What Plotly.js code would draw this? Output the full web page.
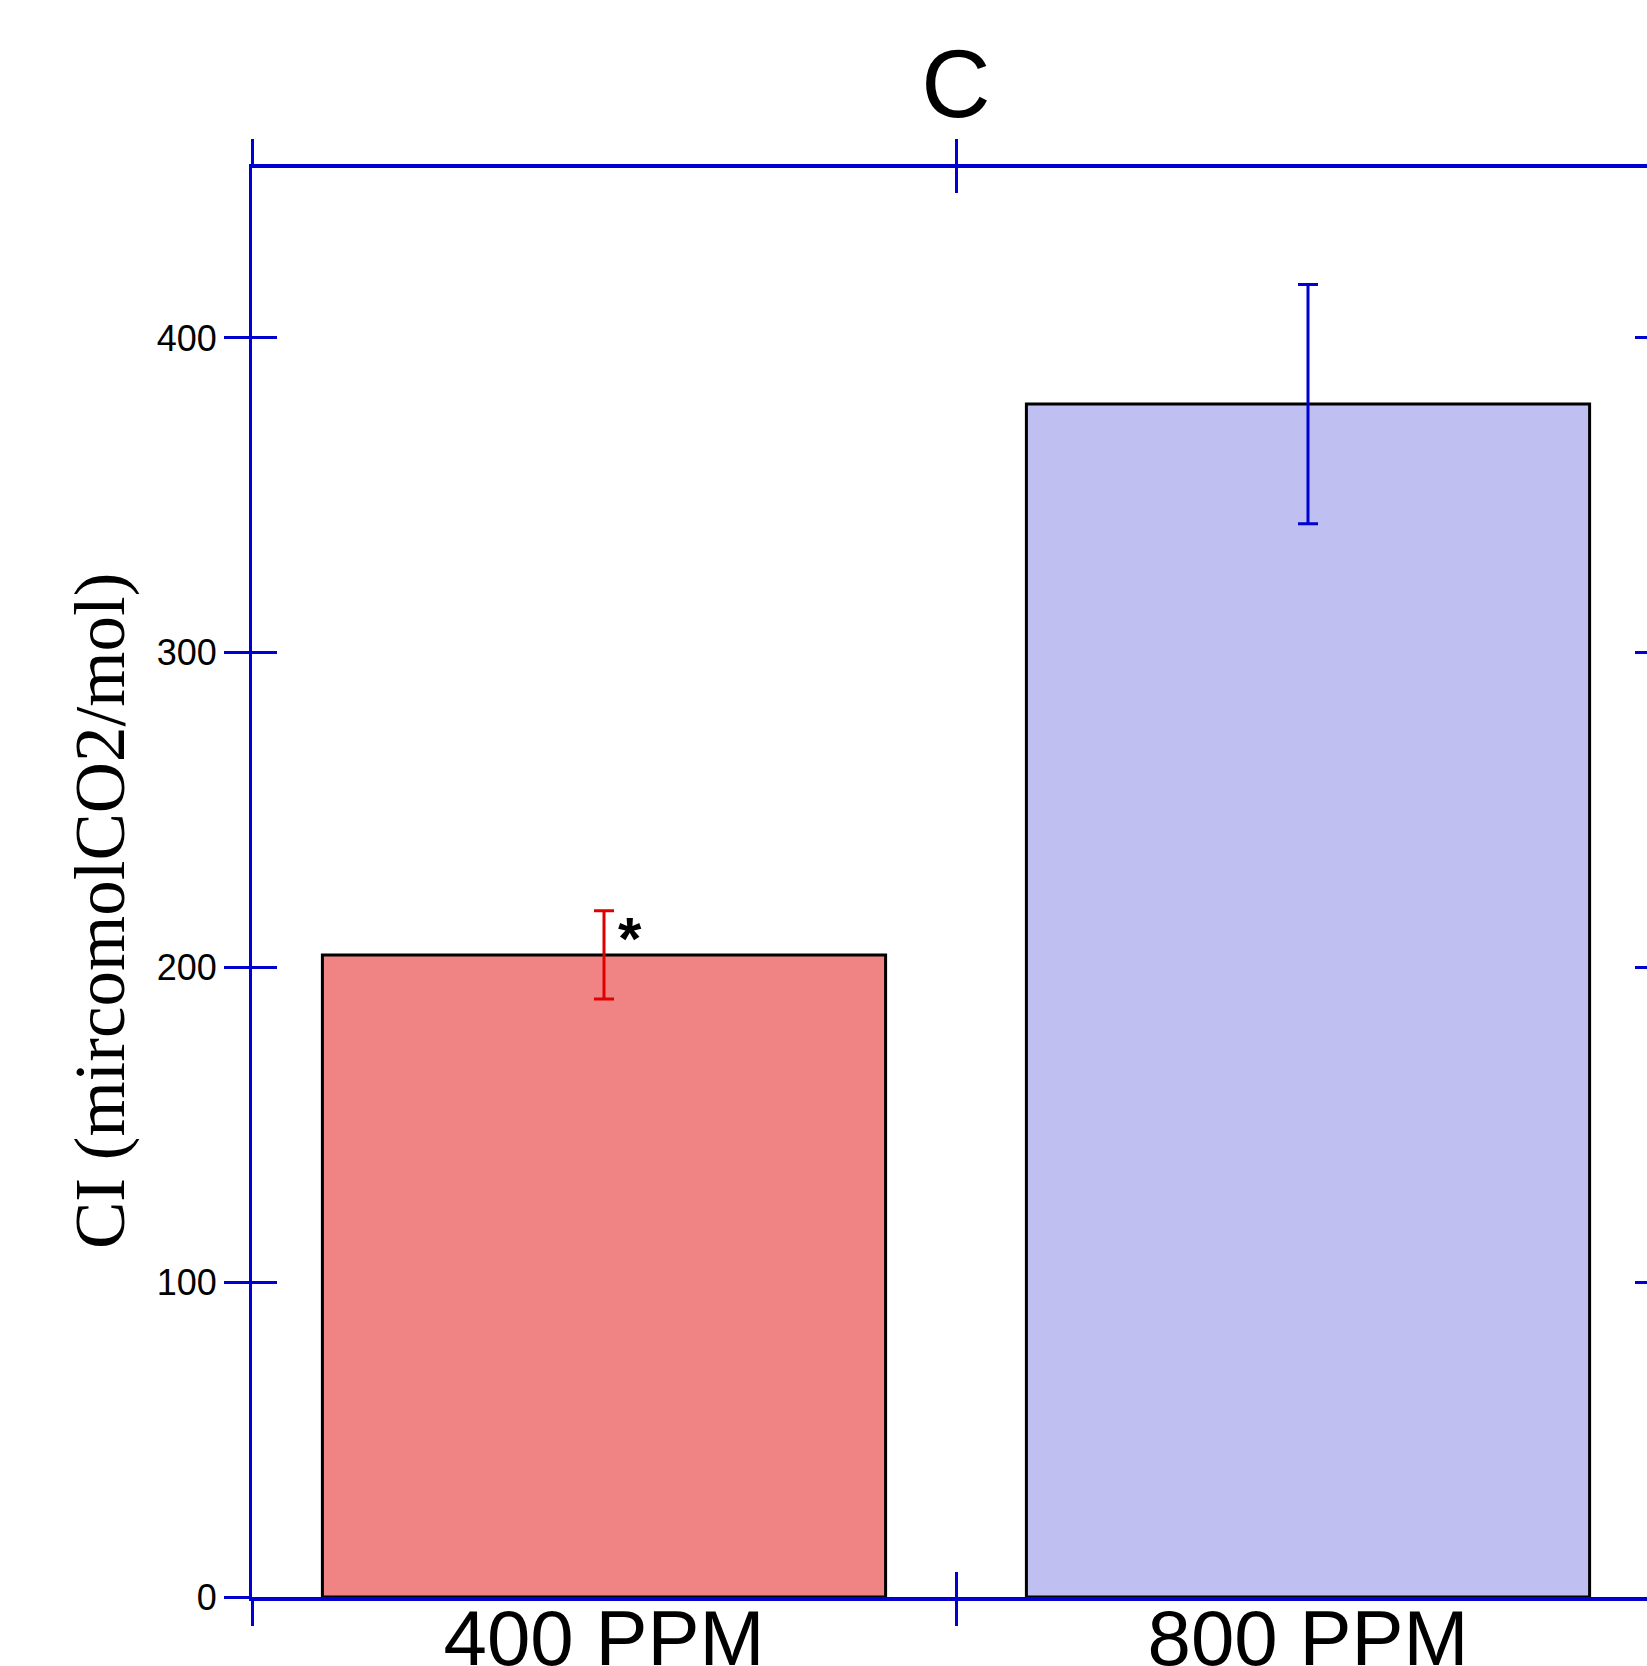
<!DOCTYPE html>
<html>
<head>
<meta charset="utf-8">
<script src="https://cdn.plot.ly/plotly-3.0.1.min.js"></script>
<style>
  html, body { margin: 0; padding: 0; overflow: hidden; background: #fff; }
  #chart { width: 1670px; height: 1666px; }
</style>
</head>
<body>
<div id="chart"></div>
<script>
// ---- data ----
const categories = ["400 PPM", "800 PPM"];
const ciValues = [204, 379];
const ciErrors = [14, 38];
const barColors = ["#F08383", "#BFBFF2"];
const errColors = ["#E00000", "#0000D0"];
const yTickVals = [0, 100, 200, 300, 400];
const titleText = "C";
const yTitleText = "CI (mircomolCO2/mol)";
const sigMark = "*";

const axisBlue = "#0000D0";

const traces = categories.map((c, i) => ({
  type: "bar",
  x: [c],
  y: [ciValues[i]],
  width: 0.8,
  marker: { color: barColors[i], line: { color: "#000", width: 3 } },
  error_y: { type: "data", array: [ciErrors[i]], visible: true, color: errColors[i], thickness: 3, width: 10 },
  hoverinfo: "x+y",
  showlegend: false
}));

// helper trace so the overlaid (second) axes are drawn
traces.push({
  type: "scatter",
  mode: "markers",
  x: categories,
  y: ciValues,
  xaxis: "x2",
  yaxis: "y2",
  marker: { opacity: 0 },
  hoverinfo: "skip",
  showlegend: false
});

const commonX = {
  type: "category",
  categoryarray: categories,
  range: [-0.5, 1.5],
  tickson: "boundaries",
  ticklen: 25,
  tickwidth: 3,
  tickcolor: axisBlue,
  showline: true,
  linecolor: axisBlue,
  linewidth: 4,
  mirror: "ticks",
  showgrid: false,
  zeroline: false,
  fixedrange: true
};
const commonY = {
  range: [0, 454],
  tickmode: "array",
  tickvals: yTickVals,
  ticklen: 25,
  tickwidth: 3,
  tickcolor: axisBlue,
  showline: true,
  linecolor: axisBlue,
  linewidth: 3,
  mirror: "ticks",
  showgrid: false,
  zeroline: false,
  fixedrange: true
};

const layout = {
  width: 1670,
  height: 1666,
  margin: { l: 252, r: 10, t: 168, b: 69 },
  paper_bgcolor: "#fff",
  plot_bgcolor: "#fff",
  barmode: "overlay",
  title: {
    text: titleText,
    font: { family: "Liberation Sans, Arial, sans-serif", size: 96, color: "#000" },
    xref: "paper", x: 0.5, xanchor: "center",
    yref: "container", y: 1 - 83.5 / 1666, yanchor: "middle"
  },
  xaxis: Object.assign({}, commonX, {
    ticks: "inside",
    ticklabelstandoff: -30,
    tickfont: { family: "Liberation Sans, Arial, sans-serif", size: 78, color: "#000" }
  }),
  xaxis2: Object.assign({}, commonX, {
    overlaying: "x",
    side: "bottom",
    ticks: "outside",
    showticklabels: false
  }),
  yaxis: Object.assign({}, commonY, {
    ticks: "outside",
    tickfont: { family: "Liberation Sans, Arial, sans-serif", size: 36, color: "#000" }
  }),
  yaxis2: Object.assign({}, commonY, {
    overlaying: "y",
    side: "left",
    ticks: "inside",
    showticklabels: false
  }),
  annotations: [
    {
      text: yTitleText,
      textangle: -90,
      xref: "paper", x: (100 - 252) / 1408, xanchor: "center",
      yref: "paper", y: (1597 - 911) / 1429, yanchor: "middle",
      showarrow: false,
      font: { family: "Liberation Serif, Times New Roman, serif", size: 71, color: "#000" }
    },
    {
      text: sigMark,
      xref: "x", x: categories[0],
      yref: "y", y: ciValues[0],
      xshift: 26, yshift: 16,
      xanchor: "center", yanchor: "middle",
      showarrow: false,
      font: { family: "Liberation Sans, Arial, sans-serif", size: 60, color: "#000", weight: "bold" }
    }
  ]
};

Plotly.newPlot("chart", traces, layout, { displayModeBar: false });
</script>
</body>
</html>
